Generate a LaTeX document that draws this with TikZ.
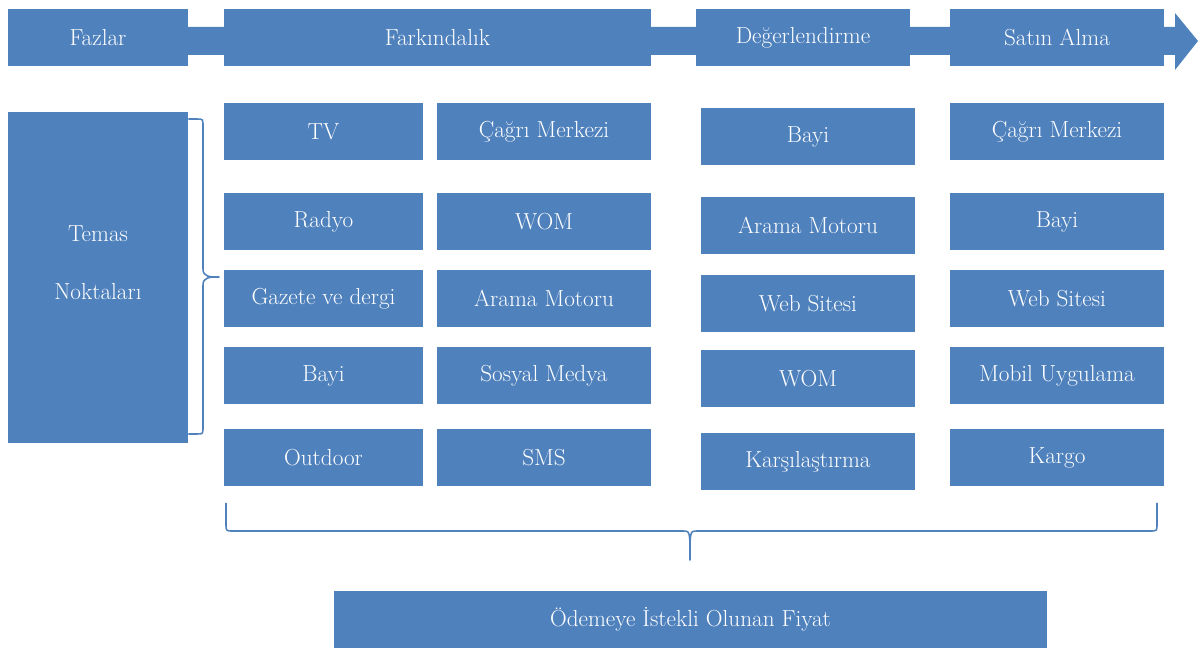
\documentclass[tikz,border=0pt]{standalone}
\usepackage{fontspec}
\usetikzlibrary{positioning}

\definecolor{kutumavi}{HTML}{4F81BD}

\tikzset{
  kutu/.style={fill=kutumavi,text=white,inner sep=0pt,
    minimum width=5.35cm,minimum height=1.425cm},
  dar/.style={kutu,minimum width=4.975cm},
  parantez/.style={draw=kutumavi,line width=1.1pt,line join=round}
}

\begin{document}
\begin{tikzpicture}[x=0.025cm,y=-0.025cm,
    font=\fontsize{16.5}{20}\selectfont]
    \useasboundingbox (0,0) rectangle (1198,648);

    % Fazlar: arkadaki ok bandi ve dort baslik kutusu
    \fill[kutumavi] (8,27) -- (1175,27) -- (1175,13) -- (1198,41)
        -- (1175,70) -- (1175,55) -- (8,55) -- cycle;
    \node[kutu,minimum width=4.5cm] (fazlar) at (98,37.5) {Fazlar};
    \node[kutu,minimum width=10.675cm] (farkindalik) at (437.5,37.5)
        {Farkındalık};
    \node[kutu] (degerlendirme) at (803,37.5) {Değerlendirme};
    \node[kutu] (satinalma) at (1057,37.5) {Satın Alma};

    % Temas noktalari kutusu ve sag yandaki kume parantezi
    \node[kutu,minimum width=4.5cm,minimum height=8.275cm] (temas)
        at (98,277.5) {};
    \node[text=white,align=center] (temasyazi) at (98,263)
        {Temas\\[21pt]Noktaları};
    \draw[parantez] (temas.east |- 0,119) -- (197,119)
        .. controls (203,119) .. (203,126) -- (203,269)
        .. controls (203,277) and (210,277) .. (219,277)
        .. controls (210,277) and (203,277) .. (203,285)
        -- (203,427) .. controls (203,434) .. (197,434)
        -- (temas.east |- 0,434);

    % Farkindalik: iki sutun
    \node[dar] (tv) at (323.5,131.5) {TV};
    \node[dar] (radyo) at (323.5,221.5) {Radyo};
    \node[dar] (gazete) at (323.5,298.5) {Gazete ve dergi};
    \node[dar] (bayia) at (323.5,375.5) {Bayi};
    \node[dar] (outdoor) at (323.5,457.5) {Outdoor};

    \node[kutu] (cagria) at (544,131.5) {Çağrı Merkezi};
    \node[kutu] (woma) at (544,221.5) {WOM};
    \node[kutu] (aramaa) at (544,298.5) {Arama Motoru};
    \node[kutu] (sosyal) at (544,375.5) {Sosyal Medya};
    \node[kutu] (sms) at (544,457.5) {SMS};

    % Degerlendirme
    \node[kutu] (bayib) at (808,136.5) {Bayi};
    \node[kutu] (aramab) at (808,225.5) {Arama Motoru};
    \node[kutu] (webb) at (808,303.5) {Web Sitesi};
    \node[kutu] (womb) at (808,378.5) {WOM};
    \node[kutu] (karsilastirma) at (808,461.5) {Karşılaştırma};

    % Satin alma
    \node[kutu] (cagric) at (1057,131.5) {Çağrı Merkezi};
    \node[kutu] (bayic) at (1057,221.5) {Bayi};
    \node[kutu] (webc) at (1057,298.5) {Web Sitesi};
    \node[kutu] (mobil) at (1057,375.5) {Mobil Uygulama};
    \node[kutu] (kargo) at (1057,457.5) {Kargo};

    % Alt parantez ve fiyat kutusu
    \node[kutu,minimum width=17.825cm] (fiyat) at (690.5,619.5)
        {Ödemeye İstekli Olunan Fiyat};
    \draw[parantez] (226,503) -- (226,524) .. controls (226,531) .. (233,531)
        -- (683,531) .. controls (690,531) .. (690,560)
        .. controls (690,531) .. (697,531) -- (1150,531)
        .. controls (1157,531) .. (1157,524) -- (1157,503);
\end{tikzpicture}
\end{document}
